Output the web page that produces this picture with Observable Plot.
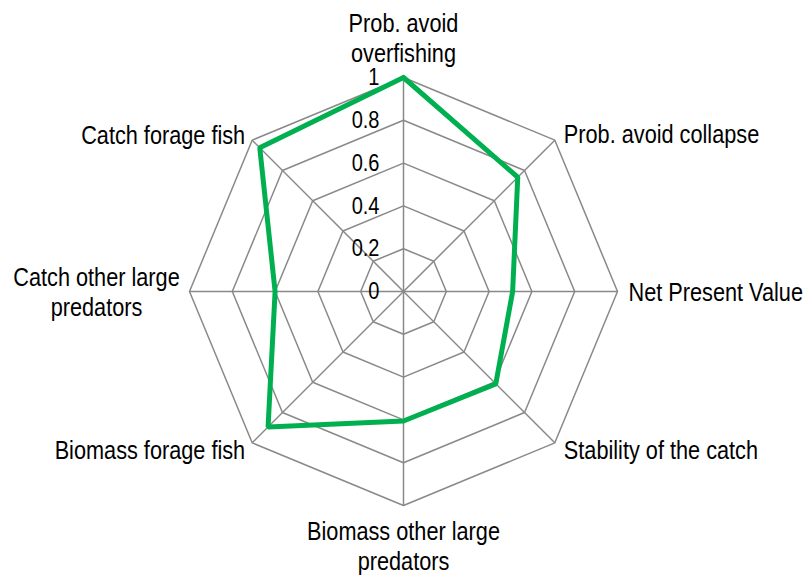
<!DOCTYPE html>
<html>
<head>
<meta charset="utf-8">
<script src="https://cdn.jsdelivr.net/npm/d3@7"></script>
<script src="https://cdn.jsdelivr.net/npm/@observablehq/plot@0.6"></script>
<style>
  html, body { margin: 0; padding: 0; background: #fff; }
  #chart svg { display: block; }
</style>
</head>
<body>
<div id="chart"></div>
<script>
const axes = [
  "Prob. avoid\noverfishing",
  "Prob. avoid collapse",
  "Net Present Value",
  "Stability of the catch",
  "Biomass other large\npredators",
  "Biomass forage fish",
  "Catch other large\npredators",
  "Catch forage fish"
];
const values = [1.0, 0.755, 0.51, 0.61, 0.605, 0.895, 0.60, 0.95];
const ticks = [0, 0.2, 0.4, 0.6, 0.8, 1];
const tickLabels = ["0", "0.2", "0.4", "0.6", "0.8", "1"];

// label placement relative to each axis end
const labelPlacement = [
  {anchor: "middle", dx: 0, dy: -40},
  {anchor: "start", dx: 9, dy: -7},
  {anchor: "start", dx: 11, dy: 0},
  {anchor: "start", dx: 9, dy: 7},
  {anchor: "middle", dx: 0, dy: 40},
  {anchor: "end", dx: -7, dy: 7},
  {anchor: "middle", dx: -93, dy: 0},
  {anchor: "end", dx: -7, dy: -6}
];

const n = axes.length;
const ang = i => i * 2 * Math.PI / n;
const px = (i, v) => v * Math.sin(ang(i));
const py = (i, v) => v * Math.cos(ang(i));

const rings = [];
ticks.filter(t => t > 0).forEach(t => {
  for (let i = 0; i <= n; i++) rings.push({level: t, x: px(i % n, t), y: py(i % n, t)});
});
const spokes = axes.map((a, i) => ({x1: 0, y1: 0, x2: px(i, 1), y2: py(i, 1)}));
const series = [];
for (let i = 0; i <= n; i++) series.push({x: px(i % n, values[i % n]), y: py(i % n, values[i % n])});
const labels = axes.map((a, i) => ({text: a, x: px(i, 1), y: py(i, 1), ...labelPlacement[i]}));
const tickData = ticks.map((t, i) => ({x: 0, y: t, text: tickLabels[i]}));

const font = "'Liberation Sans', Arial, sans-serif";
const gray = "#898989";

const plot = Plot.plot({
  width: 807,
  height: 575,
  margin: 0,
  x: {domain: [-1, 1], range: [189, 617], axis: null},
  y: {domain: [-1, 1], range: [505, 77], axis: null},
  style: {fontFamily: font, background: "#fff"},
  marks: [
    Plot.line(rings, {x: "x", y: "y", z: "level", stroke: gray, strokeWidth: 1.5}),
    Plot.link(spokes, {x1: "x1", y1: "y1", x2: "x2", y2: "y2", stroke: gray, strokeWidth: 1.5}),
    Plot.line(series, {x: "x", y: "y", stroke: "#00b050", strokeWidth: 5, strokeLinejoin: "miter"}),
    Plot.text(tickData, {x: "x", y: "y", text: "text", textAnchor: "end", dx: -24, fontSize: 24, fill: "#000", className: "narrow"}),
    ...labels.map(d =>
      Plot.text([d], {
        x: "x", y: "y", text: "text", textAnchor: d.anchor,
        dx: d.dx, dy: d.dy, fontSize: 26, lineHeight: 1.13, fill: "#000", className: "narrow"
      })
    )
  ]
});
document.getElementById("chart").appendChild(plot);

// condense text horizontally to mimic the narrow sans face of the original
d3.select(plot).selectAll("g.narrow text").each(function() {
  const t = this.getAttribute("transform") || "";
  this.setAttribute("transform", t + " scale(0.835,1)");
});
</script>
</body>
</html>
